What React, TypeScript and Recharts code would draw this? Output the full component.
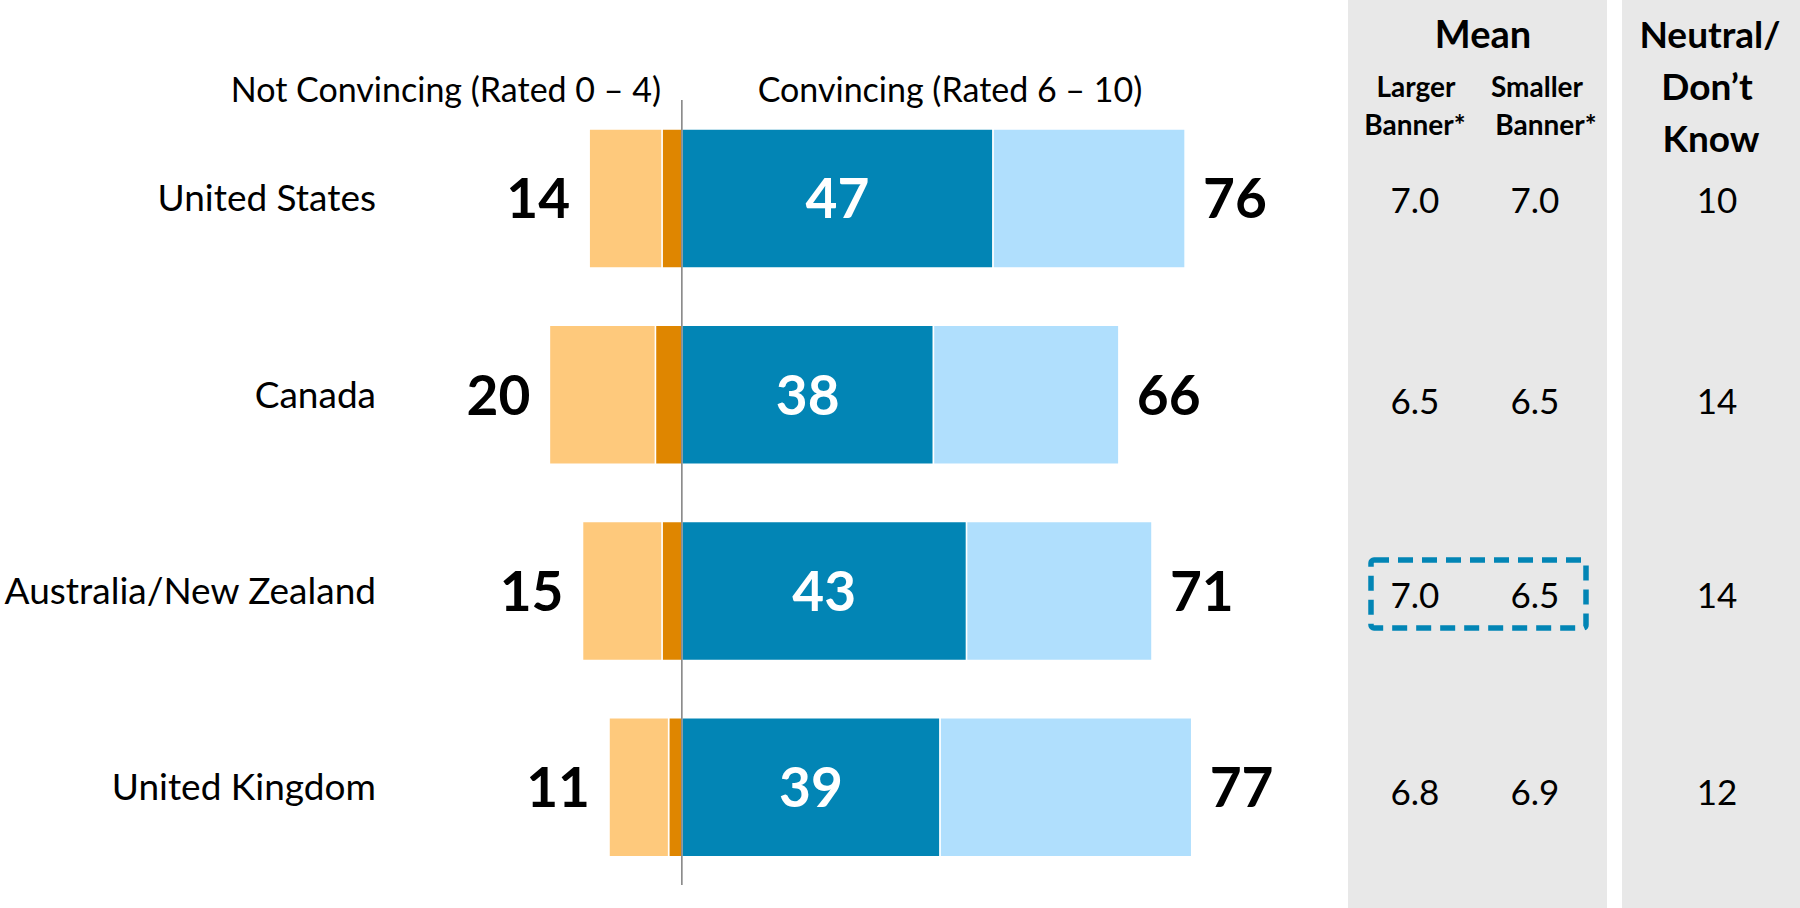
import React from 'react';
import { BarChart, Bar, XAxis, YAxis, ReferenceLine, LabelList } from 'recharts';

const countries = ['United States', 'Canada', 'Australia/New Zealand', 'United Kingdom'];
// not convincing (0 – 4), split into the darker part next to zero and the lighter outer part
const notAtAll = [3, 4, 3, 2];
const notConvincing = [11, 16, 12, 9];
const notTotals = [14, 20, 15, 11];
// convincing (6 – 10)
const veryConvincing = [47, 38, 43, 39];
const convincing = [29, 28, 28, 38];
const convTotals = [76, 66, 71, 77];
// table on the right
const meanLarger = ['7.0', '6.5', '7.0', '6.8'];
const meanSmaller = ['7.0', '6.5', '6.5', '6.9'];
const neutral = ['10', '14', '14', '12'];
const rowTextY = [200, 401, 595, 792];

const FONT = 'Lato, "Open Sans", sans-serif';

const data = countries.map((name, i) => ({
  name,
  strongNo: -notAtAll[i],
  no: -notConvincing[i],
  strongYes: veryConvincing[i],
  yes: convincing[i],
  negTotal: notTotals[i],
  posTotal: convTotals[i],
}));

function box(p: any) {
  const vb = p.viewBox || {};
  const x = Number(p.x ?? vb.x);
  const y = Number(p.y ?? vb.y);
  const w = Number(p.width ?? vb.width);
  const h = Number(p.height ?? vb.height);
  return { left: Math.min(x, x + w), right: Math.max(x, x + w), cy: y + h / 2 };
}

const NegLabel = (p: any) => {
  const b = box(p);
  return (
    <text x={b.left - 19} y={b.cy} dy="0.36em" textAnchor="end" fontFamily={FONT} fontWeight={700} fontSize={55} fill="#000">
      {p.value}
    </text>
  );
};

const PosLabel = (p: any) => {
  const b = box(p);
  return (
    <text x={b.right + 18} y={b.cy} dy="0.36em" textAnchor="start" fontFamily={FONT} fontWeight={700} fontSize={55} fill="#000">
      {p.value}
    </text>
  );
};

const InnerLabel = (p: any) => {
  const b = box(p);
  return (
    <text x={(b.left + b.right) / 2} y={b.cy} dy="0.36em" textAnchor="middle" fontFamily={FONT} fontWeight={700} fontSize={55} fill="#fff">
      {p.value}
    </text>
  );
};

export default function App() {
  return (
    <div style={{ position: 'absolute', left: 0, top: 0, width: 1800, height: 908, background: '#fff' }}>
      <svg width={1800} height={908} style={{ position: 'absolute', left: 0, top: 0 }}>
        <rect x={1348} y={0} width={259} height={908} fill="#e8e8e8" />
        <rect x={1622} y={0} width={178} height={908} fill="#e8e8e8" />
        <g fontFamily={FONT} fill="#000" textAnchor="middle">
          <text x={1483} y={48} fontSize={38} fontWeight={700}>Mean</text>
          <text x={1416} y={97} fontSize={28} fontWeight={700}>Larger</text>
          <text x={1415} y={135} fontSize={28} fontWeight={700}>Banner*</text>
          <text x={1537} y={97} fontSize={28} fontWeight={700}>Smaller</text>
          <text x={1546} y={135} fontSize={28} fontWeight={700}>Banner*</text>
          <text x={1710} y={48} fontSize={37} fontWeight={700}>Neutral/</text>
          <text x={1707} y={100} fontSize={37} fontWeight={700}>Don’t</text>
          <text x={1711} y={152} fontSize={37} fontWeight={700}>Know</text>
          {rowTextY.map((y, i) => (
            <g key={i} fontSize={35}>
              <text x={1415} y={y} dy="0.36em">{meanLarger[i]}</text>
              <text x={1535} y={y} dy="0.36em">{meanSmaller[i]}</text>
              <text x={1717} y={y} dy="0.36em">{neutral[i]}</text>
            </g>
          ))}
          <text x={661} y={102} fontSize={34} textAnchor="end">Not Convincing (Rated 0 – 4)</text>
          <text x={950} y={102} fontSize={34}>Convincing (Rated 6 – 10)</text>
        </g>
        <rect x={1371} y={560} width={215} height={68} rx={3} fill="none" stroke="#0285b5" strokeWidth={5.5} strokeDasharray="15 9" />
      </svg>
      <div style={{ position: 'absolute', left: 0, top: 0 }}>
        <BarChart
          width={1800}
          height={908}
          data={data}
          layout="vertical"
          stackOffset="sign"
          barSize={139}
          margin={{ top: 100, right: 456, bottom: 23, left: 0 }}
        >
          <XAxis type="number" domain={[-40, 100]} hide />
          <YAxis
            type="category"
            dataKey="name"
            width={417}
            axisLine={false}
            tickLine={false}
            tickSize={0}
            tickMargin={41}
            tick={{ fill: '#000', fontSize: 37, fontFamily: FONT }}
          />
          <Bar dataKey="strongNo" stackId="a" fill="#df8600" stroke="#fff" strokeWidth={1.5} isAnimationActive={false} />
          <Bar dataKey="no" stackId="a" fill="#fec97c" stroke="#fff" strokeWidth={1.5} isAnimationActive={false}>
            <LabelList dataKey="negTotal" content={NegLabel} />
          </Bar>
          <Bar dataKey="strongYes" stackId="a" fill="#0285b5" stroke="#fff" strokeWidth={1.5} isAnimationActive={false}>
            <LabelList dataKey="strongYes" content={InnerLabel} />
          </Bar>
          <Bar dataKey="yes" stackId="a" fill="#b0dffd" stroke="#fff" strokeWidth={1.5} isAnimationActive={false}>
            <LabelList dataKey="posTotal" content={PosLabel} />
          </Bar>
          <ReferenceLine x={0} stroke="#7f7f7f" strokeWidth={1.5} />
        </BarChart>
      </div>
    </div>
  );
}
